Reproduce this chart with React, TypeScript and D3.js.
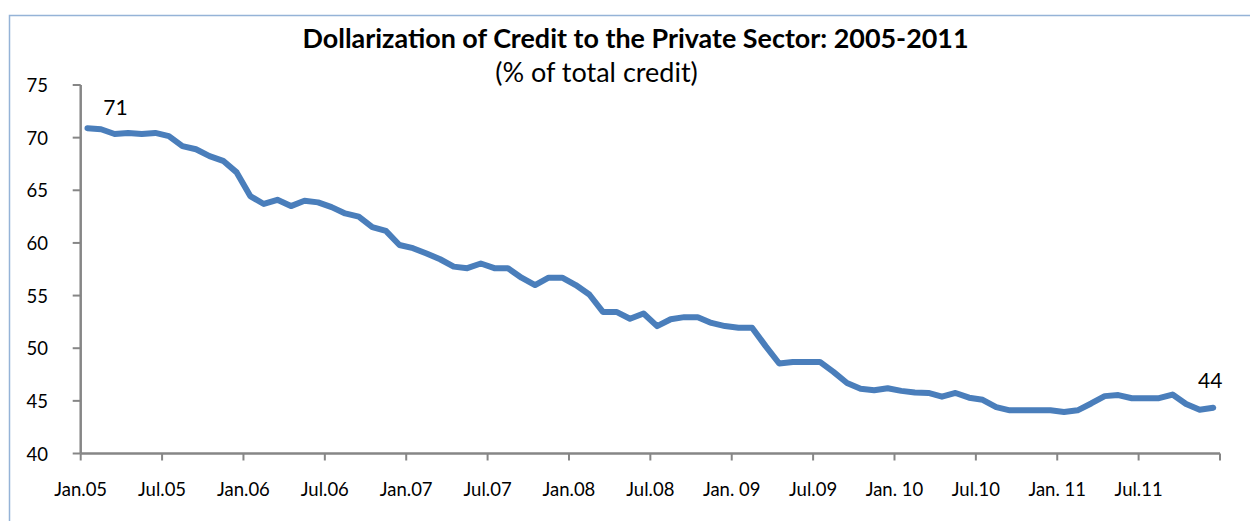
import React from "react";
import * as d3 from "d3";

const title = "Dollarization of Credit to the Private Sector: 2005-2011";
const subtitle = "(% of total credit)";

// Monthly values, Jan.05 .. Dec.11 (84 months)
const values: number[] = [
  70.9, 70.8, 70.35, 70.45, 70.35, 70.45, 70.15, 69.2, 68.9, 68.25, 67.8, 66.7,
  64.45, 63.7, 64.1, 63.5, 64.0, 63.85, 63.4, 62.8, 62.5, 61.5, 61.15, 59.8,
  59.5, 59.0, 58.45, 57.75, 57.6, 58.05, 57.6, 57.6, 56.7, 56.0, 56.7, 56.7,
  56.0, 55.1, 53.45, 53.45, 52.8, 53.3, 52.1, 52.75, 52.95, 52.95, 52.4, 52.1,
  51.95, 51.95, 50.2, 48.55, 48.7, 48.7, 48.7, 47.75, 46.7, 46.15, 46.0, 46.2,
  45.95, 45.8, 45.75, 45.4, 45.75, 45.3, 45.1, 44.4, 44.1, 44.1, 44.1, 44.1,
  43.95, 44.1, 44.75, 45.45, 45.55, 45.25, 45.25, 45.25, 45.6, 44.7, 44.15, 44.35,
];

const xTickLabels: string[] = [
  "Jan.05", "Jul.05", "Jan.06", "Jul.06", "Jan.07", "Jul.07", "Jan.08",
  "Jul.08", "Jan. 09", "Jul.09", "Jan. 10", "Jul.10", "Jan. 11", "Jul.11", "",
];

const yTicks: number[] = [40, 45, 50, 55, 60, 65, 70, 75];

const firstLabel = "71";
const lastLabel = "44";

const FONT = "Lato, 'Open Sans', sans-serif";
const AXIS = "#868686";
const LINE = "#4a7ebb";

export default function App() {
  const W = 1250;
  const H = 521;
  const x = d3.scaleLinear().domain([0, values.length]).range([80.7, 1220]);
  const y = d3.scaleLinear().domain([40, 75]).range([453.5, 85]);

  const line = d3
    .line<number>()
    .x((_, i) => x(i + 0.5))
    .y((d) => y(d));

  const tickIdx = xTickLabels.map((_, k) => k * 6);
  const last = values.length - 1;

  return (
    <svg
      width={W}
      height={H}
      style={{ position: "absolute", left: 0, top: 0, background: "#fff" }}
    >
      <rect x={0} y={0} width={W} height={H} fill="#fff" />
      <rect
        x={9.5}
        y={15.5}
        width={W + 20}
        height={H + 20}
        fill="none"
        stroke="#95b3d7"
        strokeWidth={1.5}
      />
      <text
        x={635.5}
        y={47.5}
        textAnchor="middle"
        fontFamily={FONT}
        fontWeight={700}
        fontSize={26.9}
        fill="#000"
      >
        {title}
      </text>
      <text
        x={596.5}
        y={82}
        textAnchor="middle"
        fontFamily={FONT}
        fontSize={27}
        fill="#000"
      >
        {subtitle}
      </text>

      {/* y axis */}
      <line x1={x(0)} x2={x(0)} y1={y(75)} y2={y(40)} stroke={AXIS} strokeWidth={2.5} />
      {yTicks.map((t) => (
        <g key={t}>
          <line x1={x(0) - 8} x2={x(0)} y1={y(t)} y2={y(t)} stroke={AXIS} strokeWidth={2} />
          <text
            x={48}
            y={y(t)}
            textAnchor="end"
            dominantBaseline="central"
            fontFamily={FONT}
            fontSize={18.5}
            fill="#000"
          >
            {t}
          </text>
        </g>
      ))}

      {/* x axis */}
      <line x1={x(0)} x2={x(values.length)} y1={y(40)} y2={y(40)} stroke={AXIS} strokeWidth={2.5} />
      {tickIdx.map((ti, k) => (
        <g key={ti}>
          <line x1={x(ti)} x2={x(ti)} y1={y(40)} y2={y(40) + 7} stroke={AXIS} strokeWidth={2} />
          <text
            x={x(ti)}
            y={496}
            textAnchor="middle"
            fontFamily={FONT}
            fontSize={18.5}
            fill="#000"
          >
            {xTickLabels[k]}
          </text>
        </g>
      ))}

      <path
        d={line(values) || ""}
        fill="none"
        stroke={LINE}
        strokeWidth={6}
        strokeLinejoin="round"
        strokeLinecap="round"
      />

      <text
        x={x(0.5) + 28}
        y={y(values[0]) - 13}
        textAnchor="middle"
        fontFamily={FONT}
        fontSize={21}
        fill="#000"
      >
        {firstLabel}
      </text>
      <text
        x={x(last + 0.5) - 3}
        y={y(values[last]) - 20}
        textAnchor="middle"
        fontFamily={FONT}
        fontSize={21}
        fill="#000"
      >
        {lastLabel}
      </text>
    </svg>
  );
}
